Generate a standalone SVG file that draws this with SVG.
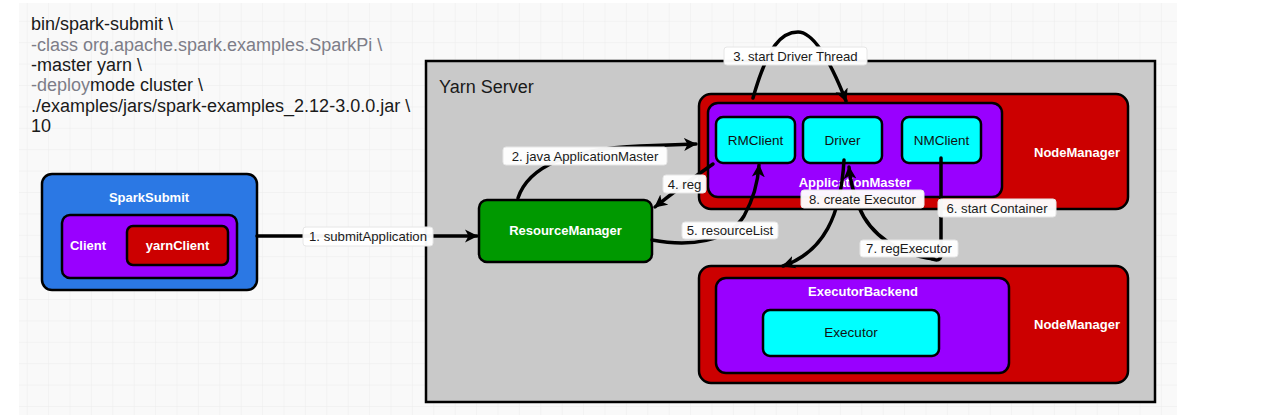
<svg xmlns="http://www.w3.org/2000/svg" width="1276" height="419" viewBox="0 0 1276 419">
<defs>
<pattern id="grid" x="5.3" y="-0.6" width="21.4" height="21.4" patternUnits="userSpaceOnUse">
<path d="M21.4,0 L0,0 L0,21.4" fill="none" stroke="#ebebeb" stroke-width="1"/>
</pattern>
<marker id="arr" viewBox="0 0 14 14" refX="12" refY="7" markerWidth="14" markerHeight="14" markerUnits="userSpaceOnUse" orient="auto">
<path d="M0,0.5 L13,7 L0,13.5 L3.5,7 Z" fill="#000"/>
</marker>
<style>
.box{stroke:#000;stroke-width:2.5}
.wt{font-family:"Liberation Sans",Arial,sans-serif;font-size:13px;font-weight:bold;fill:#fff;text-anchor:middle}
.dk{font-family:"Liberation Sans",Arial,sans-serif;font-size:13.5px;fill:#111;text-anchor:middle}
.code{font-family:"Liberation Sans",Arial,sans-serif;font-size:18px;fill:#1a1a1a}
.gr{fill:#7d7d88}
.cn{fill:none;stroke:#000;stroke-width:3.5;stroke-linecap:round}
.lb{fill:#fff;fill-opacity:0.96;stroke:#e6e6e6;stroke-width:1}
.lt{font-family:"Liberation Sans",Arial,sans-serif;font-size:13.2px;fill:#1a1a1a;text-anchor:middle}
</style>
</defs>
<rect width="1276" height="419" fill="#fff"/>
<rect x="19" y="3" width="1158" height="412" fill="#f9f9f9"/>
<rect x="19" y="3" width="1158" height="412" fill="url(#grid)"/>

<g id="code">
<text class="code" x="31" y="30">bin/spark-submit \</text>
<text class="code gr" x="31" y="51">-class org.apache.spark.examples.SparkPi \</text>
<text class="code" x="31" y="71">-master yarn \</text>
<text class="code" x="31" y="91"><tspan class="gr">-deploy</tspan>mode cluster \</text>
<text class="code" x="31" y="112">./examples/jars/spark-examples_2.12-3.0.0.jar \</text>
<text class="code" x="31" y="132">10</text>
</g>

<g id="yarn-server">
<rect x="426" y="61" width="729" height="341" fill="#c9c9c9" stroke="#000" stroke-width="2.5"/>
<text x="439" y="93" font-family="Liberation Sans, Arial, sans-serif" font-size="18" fill="#1a1a1a">Yarn Server</text>
</g>

<g id="spark-submit">
<rect class="box" x="42" y="174" width="215" height="116" rx="10" fill="#2b78e4"/>
<text class="wt" x="149" y="202">SparkSubmit</text>
</g>
<g id="client">
<rect class="box" x="62" y="215" width="175" height="63" rx="8" fill="#9900ff"/>
<text class="wt" x="88" y="250">Client</text>
</g>
<g id="yarn-client">
<rect class="box" x="127" y="226" width="101" height="39" rx="6" fill="#cc0000"/>
<text class="wt" x="177.5" y="250">yarnClient</text>
</g>

<g id="resource-manager">
<rect class="box" x="479" y="200" width="173" height="62" rx="8" fill="#009900"/>
<text class="wt" x="565.5" y="235">ResourceManager</text>
</g>

<g id="node-manager-1">
<rect class="box" x="699" y="94" width="429" height="115" rx="12" fill="#cc0000"/>
<text class="wt" x="1077" y="157">NodeManager</text>
</g>
<g id="application-master">
<rect class="box" x="708" y="103" width="294" height="94" rx="10" fill="#9900ff"/>
<text class="wt" x="855" y="187">ApplicationMaster</text>
</g>
<g id="rmclient">
<rect class="box" x="716" y="117" width="79" height="46" rx="7" fill="#00ffff"/>
<text class="dk" x="755.5" y="145">RMClient</text>
</g>
<g id="driver">
<rect class="box" x="803" y="117" width="79" height="46" rx="7" fill="#00ffff"/>
<text class="dk" x="842.5" y="145">Driver</text>
</g>
<g id="nmclient">
<rect class="box" x="902" y="117" width="79" height="46" rx="7" fill="#00ffff"/>
<text class="dk" x="941.5" y="145">NMClient</text>
</g>

<g id="node-manager-2">
<rect class="box" x="699" y="266" width="429" height="117" rx="12" fill="#cc0000"/>
<text class="wt" x="1077" y="329">NodeManager</text>
</g>
<g id="executor-backend">
<rect class="box" x="716" y="278" width="293" height="95" rx="10" fill="#9900ff"/>
<text class="wt" x="863" y="296">ExecutorBackend</text>
</g>
<g id="executor">
<rect class="box" x="763" y="310" width="176" height="46" rx="7" fill="#00ffff"/>
<text class="dk" x="851" y="337">Executor</text>
</g>

<g id="connectors">
<path class="cn" d="M257,236 L477,236" marker-end="url(#arr)"/>
<path class="cn" d="M518,198 C528,168 565,149 640,146 L696,144" marker-end="url(#arr)"/>
<path class="cn" d="M753,98 C768,45 782,32 798,32 C815,32 833,68 846,101" marker-end="url(#arr)"/>
<path class="cn" d="M713,164 C690,180 670,195 655,207" marker-end="url(#arr)"/>
<path class="cn" d="M652,240 C690,247 728,242 744,216 C754,198 758,182 759,165" marker-end="url(#arr)"/>
<path class="cn" d="M941,158 L941,255 C941,260 937,261 932,259"/>
<path class="cn" d="M934,259 C900,255 870,235 859,207 C853,192 850,180 849,167" marker-end="url(#arr)"/>
<path class="cn" d="M844,160 C841,215 824,252 783,266" marker-end="url(#arr)"/>

<rect class="lb" x="303" y="227" width="130" height="19" rx="3"/>
<text class="lt" x="368" y="241">1. submitApplication</text>
<rect class="lb" x="503" y="147" width="164" height="18" rx="3"/>
<text class="lt" x="585" y="160.5">2. java ApplicationMaster</text>
<rect class="lb" x="724" y="47" width="143" height="18" rx="3"/>
<text class="lt" x="795.5" y="60.5">3. start Driver Thread</text>
<rect class="lb" x="663" y="175" width="43" height="18" rx="3"/>
<text class="lt" x="684.5" y="188.5">4. reg</text>
<rect class="lb" x="682" y="222" width="96" height="17" rx="3"/>
<text class="lt" x="730" y="235">5. resourceList</text>
<rect class="lb" x="938" y="199" width="118" height="18" rx="3"/>
<text class="lt" x="997" y="212.5">6. start Container</text>
<rect class="lb" x="860" y="240" width="98" height="17" rx="3"/>
<text class="lt" x="909" y="253">7. regExecutor</text>
<rect class="lb" x="801" y="190" width="123" height="18" rx="3"/>
<text class="lt" x="862.5" y="203.5">8. create Executor</text>
</g>
</svg>
